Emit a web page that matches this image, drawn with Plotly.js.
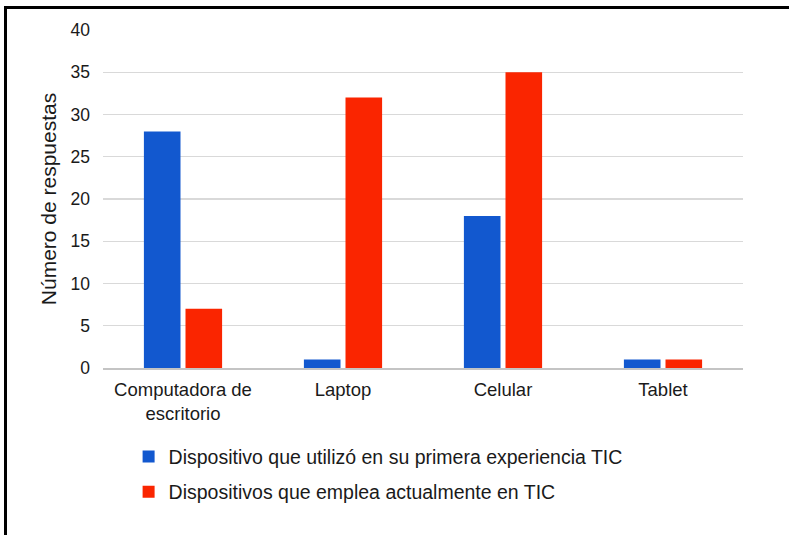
<!DOCTYPE html>
<html><head><meta charset="utf-8">
<script src="https://cdn.plot.ly/plotly-3.0.1.min.js"></script>
<style>
html,body{margin:0;padding:0;background:#fff;width:789px;height:535px;overflow:hidden}
#frame{position:absolute;left:4px;top:6px;width:785px;height:529px;border-top:3px solid #000;border-left:3px solid #000;box-sizing:border-box}
#chart{position:absolute;left:3px;top:3px;width:782px;height:526px}
</style></head>
<body><div id="frame"><div id="chart"></div></div>
<script>
const categories = ["Computadora de<br>escritorio", "Laptop", "Celular", "Tablet"];
const seriesNames = ["Dispositivo que utilizó en su primera experiencia TIC", "Dispositivos que emplea actualmente en TIC"];
const primeraExperiencia = [28, 1, 18, 1];
const actualmente = [7, 32, 35, 1];
const yTicks = [0, 5, 10, 15, 20, 25, 30, 35, 40];

const font = {family: "Liberation Sans, Arial, sans-serif", color: "#1a1a1a"};
const traces = [
  {type: "bar", x: categories, y: primeraExperiencia, name: seriesNames[0], marker: {color: "#1258CF"}, legendgroup: "a", hoverinfo: "none"},
  {type: "bar", x: categories, y: actualmente, name: seriesNames[1], marker: {color: "#FA2500"}, legendgroup: "b", hoverinfo: "none"}
];
const layout = {
  width: 782, height: 526,
  margin: {l: 93, r: 49, t: 18, b: 170},
  paper_bgcolor: "#fff", plot_bgcolor: "#fff",
  barmode: "group", bargap: 0.48, bargroupgap: 0.12,
  font: Object.assign({size: 18}, font),
  showlegend: true,
  legend: {orientation: "v", x: 0.04, y: -0.205, xanchor: "left", yanchor: "top", traceorder: "grouped", tracegroupgap: 7,
           font: Object.assign({size: 19.5}, font), bgcolor: "rgba(0,0,0,0)", itemwidth: 30},
  xaxis: {tickfont: Object.assign({size: 18.5}, font), showline: true, linecolor: "#c4c4c4", linewidth: 1.5, ticks: "", showgrid: false, ticklabelstandoff: 4},
  yaxis: {range: [0, 40], tickvals: yTicks, ticktext: yTicks.map(String), tickfont: Object.assign({size: 17.5}, font),
          gridcolor: "#d9d9d9", gridwidth: 1.2, zeroline: false, showline: false, ticks: "", ticklabelstandoff: 12,
          title: {text: "Número de respuestas", font: Object.assign({size: 21}, font), standoff: 8}}
};
Plotly.newPlot("chart", traces, layout, {displayModeBar: false, staticPlot: true});
</script></body></html>
